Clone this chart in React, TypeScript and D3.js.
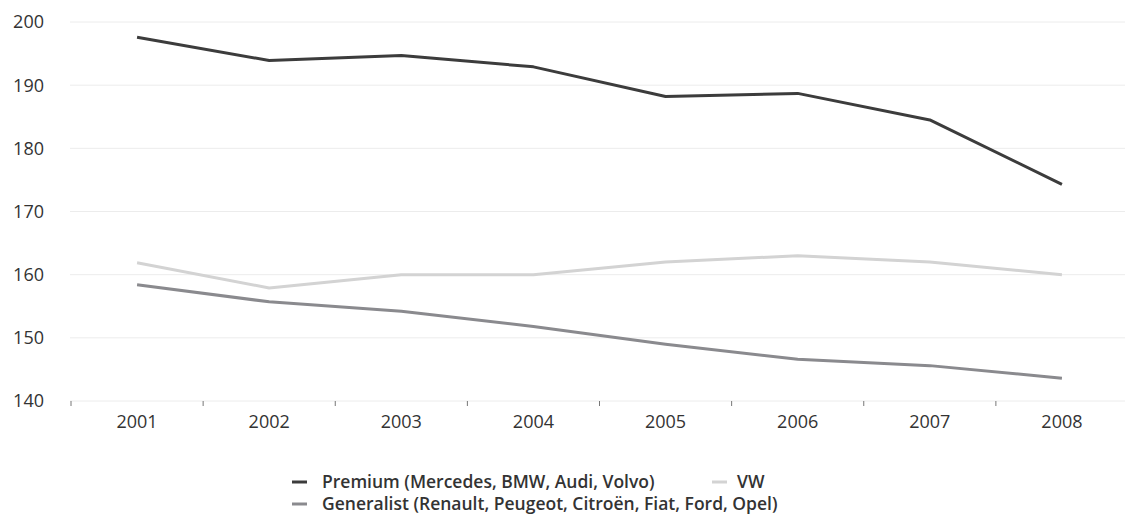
import React from "react";
import * as d3 from "d3";

const years = ["2001", "2002", "2003", "2004", "2005", "2006", "2007", "2008"];
const premium = [197.6, 193.9, 194.7, 192.9, 188.2, 188.7, 184.5, 174.3];
const vw = [161.9, 157.9, 160.0, 160.0, 162.0, 163.0, 162.0, 160.0];
const generalist = [158.4, 155.7, 154.2, 151.8, 149.0, 146.6, 145.6, 143.6];
const yTicks = [140, 150, 160, 170, 180, 190, 200];

const seriesNames = [
  "Premium (Mercedes, BMW, Audi, Volvo)",
  "VW",
  "Generalist (Renault, Peugeot, Citroën, Fiat, Ford, Opel)",
];
const seriesColors = ["#3c3c3c", "#d3d3d3", "#8a8a8e"];

const W = 1125;
const H = 517;

export default function App() {
  const x = d3.scaleBand<string>().domain(years).range([71, 1128]);
  const cx = (yr: string) => (x(yr) ?? 0) + x.bandwidth() / 2;
  const y = d3.scaleLinear().domain([140, 200]).range([401, 22]);
  const line = d3
    .line<number>()
    .x((_, i) => cx(years[i]))
    .y((d) => y(d));
  const series = [premium, vw, generalist];
  const font = "'Open Sans', 'Noto Sans', sans-serif";

  return (
    <svg
      width={W}
      height={H}
      style={{ position: "absolute", left: 0, top: 0, background: "#fff" }}
      fontFamily={font}
    >
      {yTicks.map((t) => (
        <g key={t}>
          <line x1={70} x2={W} y1={y(t)} y2={y(t)} stroke="#ececec" strokeWidth={1} />
          <text x={44} y={y(t)} dy="0.36em" textAnchor="end" fontSize={18} fill="#333">
            {t}
          </text>
        </g>
      ))}
      {years.map((yr) => (
        <g key={yr}>
          <line x1={x(yr)} x2={x(yr)} y1={401} y2={406} stroke="#777" strokeWidth={1} />
          <text x={cx(yr)} y={428} textAnchor="middle" fontSize={18} fill="#333">
            {yr}
          </text>
        </g>
      ))}
      {series.map((s, i) => (
        <path
          key={i}
          d={line(s) ?? ""}
          fill="none"
          stroke={seriesColors[i]}
          strokeWidth={3}
          strokeLinejoin="round"
        />
      ))}
      <g fontSize={17.5} fontWeight={600} fill="#333">
        <line x1={292} x2={307} y1={482} y2={482} stroke={seriesColors[0]} strokeWidth={3} />
        <text x={322} y={488}>{seriesNames[0]}</text>
        <line x1={712} x2={727} y1={482} y2={482} stroke={seriesColors[1]} strokeWidth={3} />
        <text x={737} y={488}>{seriesNames[1]}</text>
        <line x1={292} x2={307} y1={504} y2={504} stroke={seriesColors[2]} strokeWidth={3} />
        <text x={322} y={510}>{seriesNames[2]}</text>
      </g>
    </svg>
  );
}
